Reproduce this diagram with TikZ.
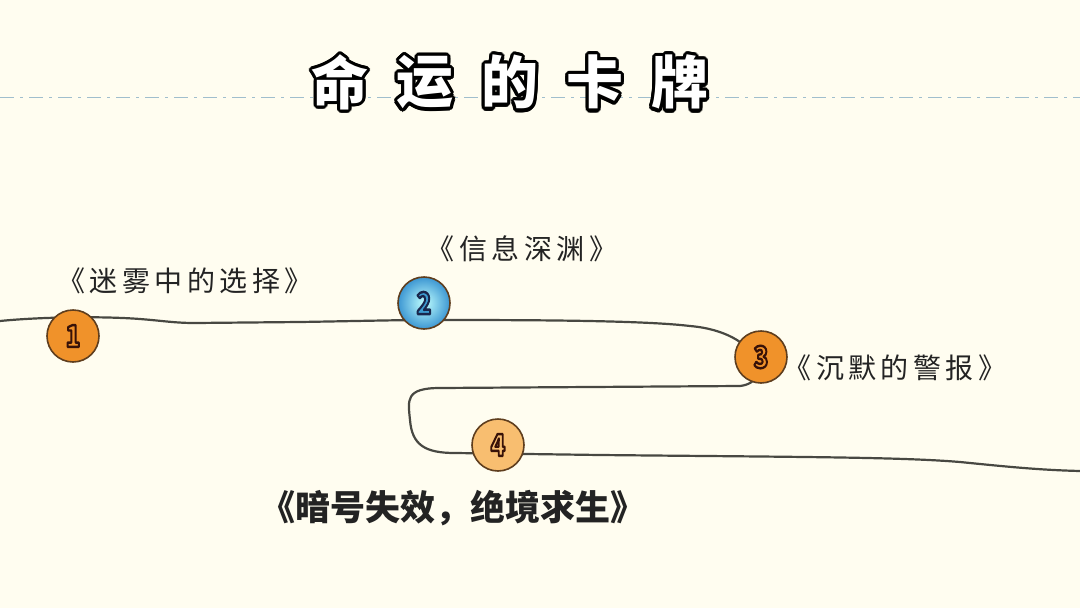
\documentclass[tikz,border=0pt]{standalone}
\usepackage{fontspec}
\usepackage{contour}
\usetikzlibrary{positioning}
\newfontfamily\cjk{Noto Sans CJK SC}
\newfontfamily\cjkwide{Noto Sans CJK SC}[LetterSpace=16]
\definecolor{paper}{RGB}{255,253,240}
\definecolor{roadgray}{RGB}{72,72,66}
\definecolor{dashblue}{RGB}{160,190,205}
\definecolor{darkorange}{RGB}{240,146,42}
\definecolor{lightorange}{RGB}{248,190,112}
\definecolor{seablue}{RGB}{60,150,210}
\definecolor{rim}{RGB}{95,62,30}
\definecolor{labelink}{RGB}{35,35,35}
% fill with #1, stroke with rgb #2 at width #3
\newcommand{\outlined}[4]{{\color{#1}\special{pdf:literal direct #2 RG #3 w 1 j 2 Tr}#4\special{pdf:literal direct 0 Tr 0.4 w}}}

\begin{document}
\begin{tikzpicture}[x=1pt, y=-1pt,
  every node/.style={font=\cjk},
  road/.style={draw=roadgray, line width=2.2pt, line cap=round},
  stop/.style={circle, draw=rim, line width=1.6pt, minimum size=52pt, inner sep=0pt,
    font=\cjk\bfseries\fontsize{30pt}{30pt}\selectfont},
  cardlabel/.style={text=labelink, font=\cjkwide\fontsize{28pt}{30pt}\selectfont},
  titlechar/.style={font=\cjk\bfseries\fontsize{57pt}{60pt}\selectfont}]
  % paper
  \fill[paper] (0,0) rectangle (1080,608);
  \useasboundingbox (0,0) rectangle (1080,608);
  % guide line under the title
  \draw[dashblue, line width=1pt, dash pattern=on 14pt off 6pt on 3pt off 6pt] (0,97) -- (1080,97);
  % title
  \contourlength{3.4pt}
  \foreach \ch [count=\i] in {命,运,的,卡,牌}
    \node[titlechar] (title\i) at (255+85*\i,84) {\contour{black}{\textcolor{white}{\ch}}};
  % winding road
  \draw[road] (0,321) .. controls (40,317) and (100,316) .. (140,319)
    .. controls (165,321) and (175,323) .. (195,323)
    -- (300,322) .. controls (360,321) and (400,320) .. (424,320)
    .. controls (520,320) and (640,320) .. (690,326)
    .. controls (760,332) and (775,382) .. (740,386)
    -- (440,388) .. controls (405,388) and (408,400) .. (410,420)
    .. controls (412,445) and (425,453) .. (455,453)
    -- (600,455) .. controls (800,457) and (900,457) .. (960,462)
    .. controls (1010,467) and (1040,470) .. (1080,471);
  % stops
  \node[stop, fill=darkorange] (stop1) at (73,336) {\scalebox{0.8}[1]{\outlined{darkorange}{0.22 0.07 0.03}{2.4}{1}}};
  \node[stop, inner color=cyan!25, outer color=seablue] (stop2) at (424,303) {\scalebox{0.8}[1]{\outlined{cyan!40!seablue}{0.1 0.15 0.3}{2.4}{2}}};
  \node[stop, fill=darkorange] (stop3) at (761,357) {\scalebox{0.8}[1]{\outlined{darkorange}{0.22 0.07 0.03}{2.4}{3}}};
  \node[stop, fill=lightorange] (stop4) at (498,445) {\scalebox{0.8}[1]{\outlined{lightorange}{0.22 0.07 0.03}{2.4}{4}}};
  % card titles
  \node[cardlabel] (card1) at (185,281) {《迷雾中的选择》};
  \node[cardlabel] (card2) at (522,249) {《信息深渊》};
  \node[cardlabel] (card3) at (895,368) {《沉默的警报》};
  \node[cardlabel, font=\cjk\bfseries\fontsize{35pt}{38pt}\selectfont] (card4) at (453,508) {《暗号失效，绝境求生》};
\end{tikzpicture}
\end{document}
